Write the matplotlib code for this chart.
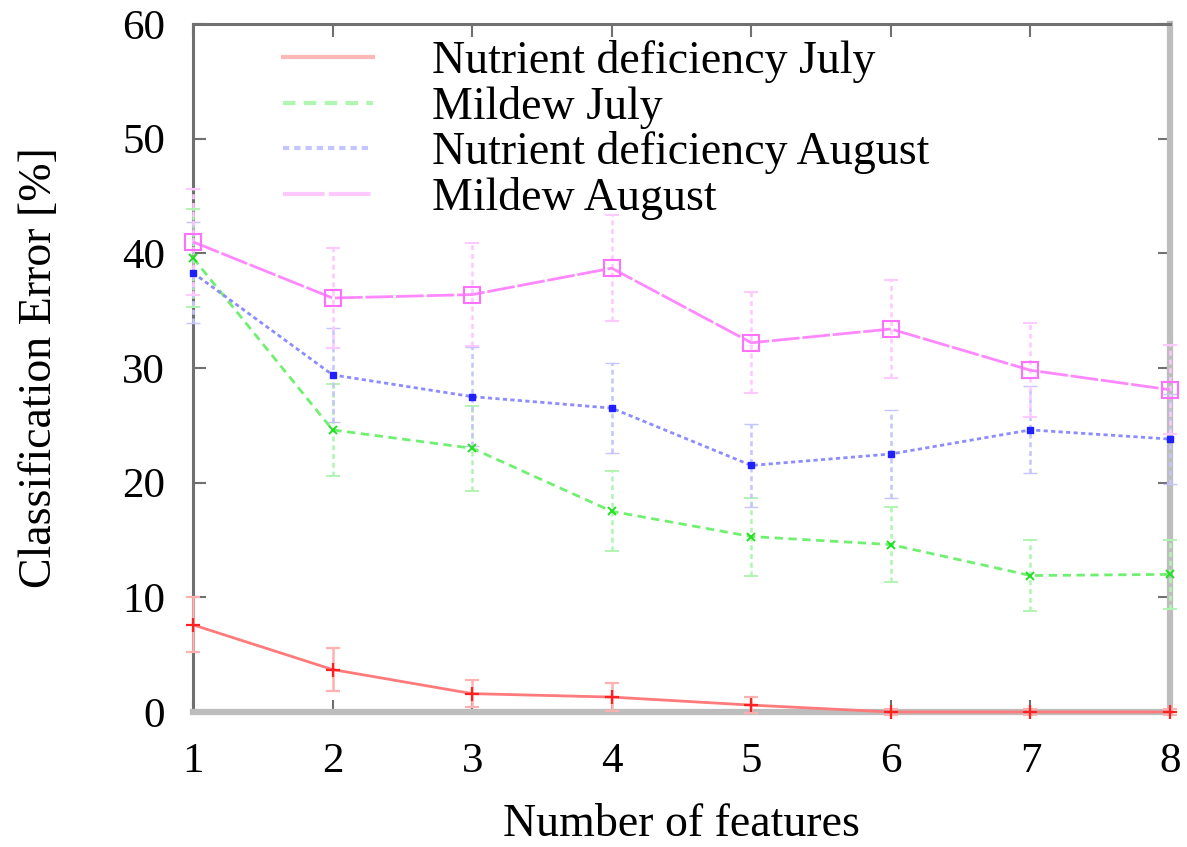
import matplotlib
matplotlib.use("Agg")
import matplotlib.pyplot as plt
from matplotlib.lines import Line2D

# Number of selected features
features = [1, 2, 3, 4, 5, 6, 7, 8]

# Classification error [%] and standard deviation per series
nutrient_july = [7.6, 3.7, 1.6, 1.3, 0.6, 0.0, 0.0, 0.0]
nutrient_july_err = [2.4, 1.9, 1.2, 1.2, 0.7, 0.3, 0.3, 0.3]

mildew_july = [39.6, 24.6, 23.0, 17.5, 15.3, 14.6, 11.9, 12.0]
mildew_july_err = [4.3, 4.0, 3.7, 3.5, 3.4, 3.3, 3.1, 3.0]

nutrient_aug = [38.3, 29.4, 27.5, 26.5, 21.5, 22.5, 24.6, 23.8]
nutrient_aug_err = [4.4, 4.1, 4.3, 3.9, 3.6, 3.8, 3.8, 3.9]

mildew_aug = [41.0, 36.1, 36.4, 38.7, 32.2, 33.4, 29.8, 28.1]
mildew_aug_err = [4.6, 4.4, 4.5, 4.6, 4.4, 4.3, 4.1, 3.9]

labels = ["Nutrient deficiency July", "Mildew July",
          "Nutrient deficiency August", "Mildew August"]

plt.rcParams["font.family"] = ["Liberation Serif", "DejaVu Serif"]

fig = plt.figure(figsize=(11.87, 8.47), dpi=100)
ax = fig.add_axes([0.1626, 0.1594, 0.8231, 0.8123])

series = [
    (nutrient_july, nutrient_july_err, "#ff7a7a", "#ffb0b0", "-", "+", "#ff2020", 10, 1.6, "none"),
    (mildew_july, mildew_july_err, "#70f070", "#b0f5b0", (0, (3, 2)), "x", "#20e020", 6, 1.4, "none"),
    (nutrient_aug, nutrient_aug_err, "#8c8cff", "#c4c4ff", (0, (1.5, 1.2)), "s", "#2020ff", 5, 1.0, "#2020ff"),
    (mildew_aug, mildew_aug_err, "#ff88ff", "#ffc8ff", (0, (10, 1)), "s", "#ff70ff", 11, 1.5, "none"),
]

handles = []
for (vals, errs, lc, ec, ls, mk, mc, ms, mew, mfc), lab in zip(series, labels):
    eb = ax.errorbar(features, vals, yerr=errs, color=lc, ecolor=ec,
                     elinewidth=1.8, capsize=5, capthick=1.8,
                     linestyle=ls, linewidth=2.0, marker=mk, markersize=ms,
                     markeredgecolor=mc, markerfacecolor=mfc,
                     markeredgewidth=mew, clip_on=False, zorder=3)
    for art in eb.lines[1] + eb.lines[0:1]:
        if art is not None:
            art.set_clip_on(False)
    for coll in eb.lines[2]:
        coll.set_clip_on(False)
        if ls != "-":
            coll.set_linestyle((0, (2, 1.5)))
    handles.append(Line2D([0], [0], color=ec if lab != labels[0] else "#ffb8b8",
                          linestyle=ls, linewidth=3.0))

ax.set_xlim(1, 8)
ax.set_ylim(0, 60)
ax.set_xticks(features)
ax.set_yticks(range(0, 61, 10))

ax.tick_params(axis="both", which="both", direction="in", length=9, width=1.5,
               colors="#707070", labelcolor="black", labelsize=31,
               top=True, right=True)
ax.tick_params(axis="y", pad=20)
ax.tick_params(axis="x", pad=22)

for side in ("left", "top"):
    ax.spines[side].set_color("#707070")
    ax.spines[side].set_linewidth(2.2)
for side in ("right", "bottom"):
    ax.spines[side].set_color("#bdbdbd")
    ax.spines[side].set_linewidth(4.5)

ax.set_xlabel("Number of features", fontsize=33, labelpad=16)
ax.set_ylabel("Classification Error [%]", fontsize=33, labelpad=44)

leg = ax.legend(handles, labels, loc="upper left", bbox_to_anchor=(0.092, 0.977),
                frameon=False, fontsize=33, handlelength=1.96, handletextpad=1.3,
                labelspacing=0.06, borderaxespad=0.0, borderpad=0.0)

fig.savefig("out.png", dpi=100, facecolor="white")
